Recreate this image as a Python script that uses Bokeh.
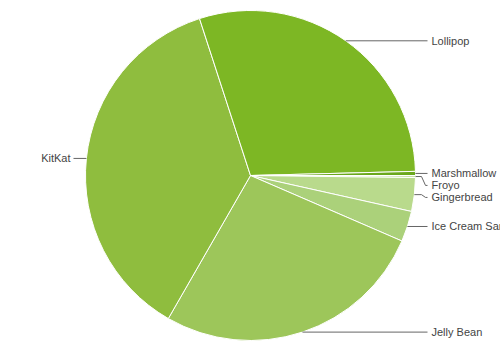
import math
from bokeh.plotting import figure
from bokeh.models import Range1d, ColumnDataSource
from bokeh.core.properties import value
from bokeh.embed import file_html
from bokeh.resources import INLINE

# Data (share of devices, %), in drawing order (clockwise, starting at 3 o'clock)
versions = ["Froyo", "Gingerbread", "Ice Cream Sandwich", "Jelly Bean", "KitKat", "Lollipop", "Marshmallow"]
shares = [0.2, 3.3, 3.0, 26.8, 36.7, 29.6, 0.4]
colors = ["#c6e3a2", "#b9da8c", "#abd17a", "#9dc65a", "#8fbd3e", "#7db724", "#6aa81c"]

W, H = 500, 350
cx, cy_s, R = 250, 175, 165          # center (screen coords) and radius
start_deg = 90.0                      # pie start angle, clockwise from 12 o'clock
cy = H - cy_s

p = figure(width=W, height=H, output_backend="svg", toolbar_location=None,
           x_range=Range1d(0, W), y_range=Range1d(0, H), min_border=0)
p.axis.visible = False
p.grid.visible = False
p.outline_line_color = None
p.background_fill_color = "white"
p.border_fill_color = "white"

total = sum(shares)
starts, ends, mids = [], [], []
acc = start_deg
for s in shares:
    a0 = acc
    a1 = acc + s / total * 360.0
    starts.append(math.radians(90 - a1))
    ends.append(math.radians(90 - a0))
    mids.append((a0 + a1) / 2)
    acc = a1

src = ColumnDataSource(dict(start=starts, end=ends, color=colors, name=versions))
p.wedge(x=cx, y=cy, radius=R, start_angle="start", end_angle="end",
        fill_color="color", line_color="white", line_width=1, source=src)

# Labels with leader lines
items = []
for name, m in zip(versions, mids):
    t = math.radians(m)
    ex = cx + R * math.sin(t)
    ey = cy_s - R * math.cos(t)
    items.append(dict(name=name, ex=ex, ey=ey, right=ex >= cx))

gap = 12
for side in (True, False):
    side_items = sorted([it for it in items if it["right"] == side], key=lambda d: d["ey"])
    last = -1e9
    for it in side_items:
        ly = max(it["ey"], last + gap)
        it["ly"] = ly
        last = ly

xs, ys = [], []
tx, ty, tt, ta = [], [], [], []
rx, ry, rt = [], [], []
for it in items:
    ex, ey, ly = it["ex"], it["ey"], it["ly"]
    if it["right"]:
        end_x = 427
        if abs(ly - ey) < 1:
            px = [ex, end_x]; py = [ey, ly]
        else:
            px = [ex, 421, 425, end_x]; py = [ey, ey, ly, ly]
        tx.append(431); ty.append(H - ly); tt.append(it["name"])
    else:
        end_x = 73
        if abs(ly - ey) < 1:
            px = [ex, end_x]; py = [ey, ly]
        else:
            px = [ex, 79, 75, end_x]; py = [ey, ey, ly, ly]
        rx.append(70); ry.append(H - ly); rt.append(it["name"])
    xs.append(px)
    ys.append([H - v for v in py])

p.multi_line(xs=xs, ys=ys, line_color="#666666", line_width=1)
p.text(x=tx, y=ty, text=tt, text_align="left", text_baseline="middle",
       text_font=value("Liberation Sans"), text_font_size="11px", text_color="#444444")
p.text(x=rx, y=ry, text=rt, text_align="right", text_baseline="middle",
       text_font=value("Liberation Sans"), text_font_size="11px", text_color="#444444")

open("out.html", "w").write(file_html(p, INLINE))
